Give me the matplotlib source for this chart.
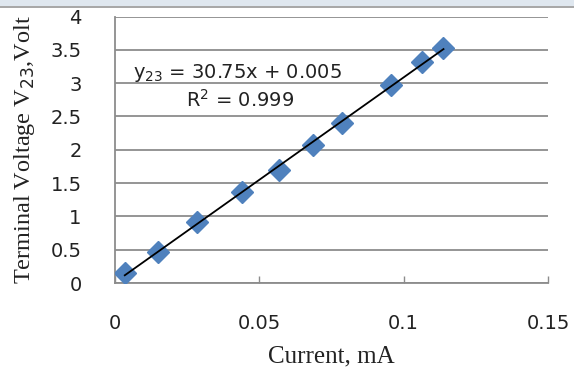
import numpy as np
import matplotlib
matplotlib.use('Agg')
import matplotlib.pyplot as plt
from matplotlib.patches import Rectangle

current_ma = [0.0034, 0.0148, 0.0283, 0.0441, 0.0569, 0.0686, 0.0786, 0.0955, 0.1062, 0.1138]
voltage_v23 = [0.15, 0.465, 0.915, 1.365, 1.70, 2.07, 2.40, 2.97, 3.32, 3.53]

x_ticks = [0, 0.05, 0.1, 0.15]
x_tick_labels = ['0', '0.05', '0.1', '0.15']
y_ticks = [0, 0.5, 1, 1.5, 2, 2.5, 3, 3.5, 4]
y_tick_labels = ['0', '0.5', '1', '1.5', '2', '2.5', '3', '3.5', '4']

MARKER_BLUE = '#4f81bd'
GRID_GRAY = '#8c8c8c'
TEXT_COLOR = '#222222'

fig = plt.figure(figsize=(5.74, 3.77), dpi=100)
fig.patches.append(Rectangle((0, 0.983), 1, 0.017, transform=fig.transFigure,
                             facecolor='#dfe7ef', edgecolor='none'))
fig.patches.append(Rectangle((0, 0.980), 1, 0.005, transform=fig.transFigure,
                             facecolor='#a8a8a8', edgecolor='none'))

ax = fig.add_axes([0.2003, 0.2493, 0.7544, 0.7067])

ax.plot(current_ma, voltage_v23, linestyle='none', marker='D', markersize=11,
        color=MARKER_BLUE, zorder=3)

# linear trendline
slope, intercept = np.polyfit(current_ma, voltage_v23, 1)
xs = np.array([min(current_ma), max(current_ma)])
ax.plot(xs, slope * xs + intercept, color='black', linewidth=1.3, zorder=4)

ax.set_xlim(0, 0.15)
ax.set_ylim(0, 4)
ax.set_xticks(x_ticks)
ax.set_xticklabels(x_tick_labels)
ax.set_yticks(y_ticks)
ax.set_yticklabels(y_tick_labels)

for lbl in ax.get_xticklabels() + ax.get_yticklabels():
    lbl.set_fontfamily('DejaVu Sans')
    lbl.set_fontsize(14)
    lbl.set_color(TEXT_COLOR)

ax.tick_params(axis='x', direction='in', length=5, width=1, color=GRID_GRAY, pad=22)
ax.tick_params(axis='y', length=0, pad=24)
ax.yaxis.grid(True, color=GRID_GRAY, linewidth=1.3)
ax.set_axisbelow(True)

for side in ['top', 'right']:
    ax.spines[side].set_visible(False)
for side in ['left', 'bottom']:
    ax.spines[side].set_color(GRID_GRAY)
    ax.spines[side].set_linewidth(1.3)

ax.set_xlabel('Current, mA', family='Liberation Serif', fontsize=18, labelpad=9,
              color=TEXT_COLOR)
ax.set_ylabel('Terminal Voltage V$_{23}$,Volt', family='Liberation Serif', fontsize=17.5,
              labelpad=10, color=TEXT_COLOR)

ax.text(0.0424, 3.15, 'y$_{23}$ = 30.75x + 0.005', ha='center', va='center',
        family='DejaVu Sans', fontsize=14, color=TEXT_COLOR)
ax.text(0.0432, 2.75, 'R$^2$ = 0.999', ha='center', va='center',
        family='DejaVu Sans', fontsize=14, color=TEXT_COLOR)

fig.savefig('out.png', dpi=100)
